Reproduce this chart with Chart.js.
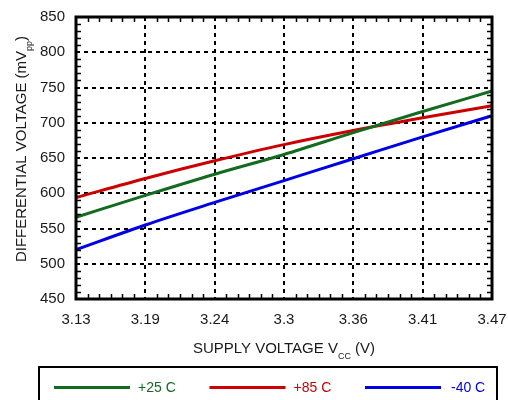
<!DOCTYPE html>
<html>
<head>
<meta charset="utf-8">
<script src="https://cdn.jsdelivr.net/npm/chart.js@4.4.1/dist/chart.umd.min.js"></script>
<style>
  html, body { margin: 0; padding: 0; background: #fff; }
  #wrap { width: 508px; height: 400px; position: relative; }
</style>
</head>
<body>
<div id="wrap"><canvas id="c" width="508" height="400"></canvas></div>
<script>
  // -- data ---------------------------------------------------------------
  const xLabels = ["3.13", "3.19", "3.24", "3.3", "3.36", "3.41", "3.47"];
  const yTicks = [450, 500, 550, 600, 650, 700, 750, 800, 850];
  const seriesNames = ["+25 C", "+85 C", "-40 C"];
  const temp25 = [566, 597, 627, 655, 686, 716, 745];
  const temp85 = [594, 621, 646, 669, 689, 707, 724];
  const tempM40 = [520, 555, 587, 618, 649, 680, 710];
  const colors = ["#126b1f", "#cc0000", "#0000e6"];

  const FONT = '"Liberation Sans", Arial, sans-serif';
  const TEXT = "#1a1a1a";

  // -- helpers -------------------------------------------------------------
  // draw a string made of normal / subscript parts, centred on (cx, cy)
  function drawParts(ctx, parts, cx, cy, size) {
    const big = `${size}px ${FONT}`;
    const small = `${Math.round(size * 0.62)}px ${FONT}`;
    let total = 0;
    for (const p of parts) {
      ctx.font = p.sub ? small : big;
      total += ctx.measureText(p.t).width;
    }
    let x = cx - total / 2;
    ctx.textAlign = "left";
    ctx.textBaseline = "alphabetic";
    for (const p of parts) {
      ctx.font = p.sub ? small : big;
      ctx.fillText(p.t, x, cy + size * 0.36 + (p.sub ? size * 0.35 : 0));
      x += ctx.measureText(p.t).width;
    }
  }

  // -- plugins -------------------------------------------------------------
  const framePlugin = {
    id: "frame",
    afterDatasetsDraw(chart) {
      const { ctx, chartArea: a, scales: { x, y } } = chart;
      ctx.save();
      ctx.strokeStyle = "#000";
      ctx.lineWidth = 1.5;
      ctx.beginPath();
      // minor ticks, bottom and top
      for (let i = 0; i < xLabels.length - 1; i++) {
        for (let k = 1; k < 6; k++) {
          const px = Math.round(x.getPixelForValue(i + k / 6)) + 0.5;
          ctx.moveTo(px, a.bottom); ctx.lineTo(px, a.bottom - 5);
          ctx.moveTo(px, a.top); ctx.lineTo(px, a.top + 5);
        }
      }
      // minor ticks, left and right
      for (let v = yTicks[0]; v < yTicks[yTicks.length - 1]; v += 10) {
        if (v % 50 === 0) continue;
        const py = Math.round(y.getPixelForValue(v)) + 0.5;
        ctx.moveTo(a.left, py); ctx.lineTo(a.left + 5, py);
        ctx.moveTo(a.right, py); ctx.lineTo(a.right - 5, py);
      }
      ctx.stroke();
      ctx.lineWidth = 3;
      ctx.strokeRect(a.left, a.top, a.right - a.left, a.bottom - a.top);
      ctx.restore();
    },
    afterDraw(chart) {
      const { ctx, chartArea: a } = chart;
      ctx.save();
      ctx.fillStyle = TEXT;
      // x title
      drawParts(ctx, [{ t: "SUPPLY VOLTAGE V" }, { t: "CC", sub: true }, { t: " (V)" }],
        (a.left + a.right) / 2, 348, 15);
      // y title
      ctx.translate(21, 149);
      ctx.rotate(-Math.PI / 2);
      drawParts(ctx, [{ t: "DIFFERENTIAL VOLTAGE (mV" }, { t: "pp", sub: true }, { t: ")" }],
        0, 0, 15);
      ctx.restore();

      // legend box
      ctx.save();
      ctx.strokeStyle = "#000";
      ctx.lineWidth = 2;
      ctx.strokeRect(39, 367, 458, 40);
      ctx.font = `14px ${FONT}`;
      ctx.textBaseline = "middle";
      ctx.textAlign = "left";
      chart.data.datasets.forEach((ds, i) => {
        const x0 = 54 + i * 155.5;
        ctx.strokeStyle = ds.borderColor;
        ctx.lineWidth = 3;
        ctx.beginPath();
        ctx.moveTo(x0, 387.5);
        ctx.lineTo(x0 + 76, 387.5);
        ctx.stroke();
        ctx.fillStyle = ds.borderColor;
        ctx.fillText(ds.label, x0 + 84 + (i === 2 ? 2 : 0), 388);
      });
      ctx.restore();
    },
  };

  // -- chart ---------------------------------------------------------------
  const gridOpts = { color: "#000", lineWidth: 2, drawTicks: false };

  new Chart(document.getElementById("c").getContext("2d"), {
    type: "line",
    data: {
      labels: xLabels,
      datasets: [temp25, temp85, tempM40].map((d, i) => ({
        label: seriesNames[i],
        data: d,
        borderColor: colors[i],
        backgroundColor: colors[i],
        borderWidth: 3,
        pointRadius: 0,
        tension: 0.3,
        cubicInterpolationMode: "monotone",
      })),
    },
    options: {
      responsive: false,
      animation: false,
      layout: { padding: { left: 0, right: 16, top: 17, bottom: 71 } },
      plugins: { legend: { display: false }, tooltip: { enabled: false } },
      scales: {
        x: {
          type: "category",
          offset: false,
          grid: gridOpts,
          border: { display: false, dash: [4, 4] },
          ticks: { color: TEXT, font: { family: FONT, size: 15 }, padding: 12, maxRotation: 0, autoSkip: false },
          afterFit: (s) => { s.height = 30; s.paddingLeft = 0; s.paddingRight = 0; },
        },
        y: {
          min: yTicks[0],
          max: yTicks[yTicks.length - 1],
          grid: gridOpts,
          border: { display: false, dash: [4, 4] },
          afterBuildTicks: (s) => { s.ticks = yTicks.map((v) => ({ value: v })); },
          ticks: { color: TEXT, font: { family: FONT, size: 15 }, padding: 11 },
          afterFit: (s) => { s.width = 76; s.paddingTop = 0; s.paddingBottom = 0; },
        },
      },
    },
    plugins: [framePlugin],
  });
</script>
</body>
</html>
